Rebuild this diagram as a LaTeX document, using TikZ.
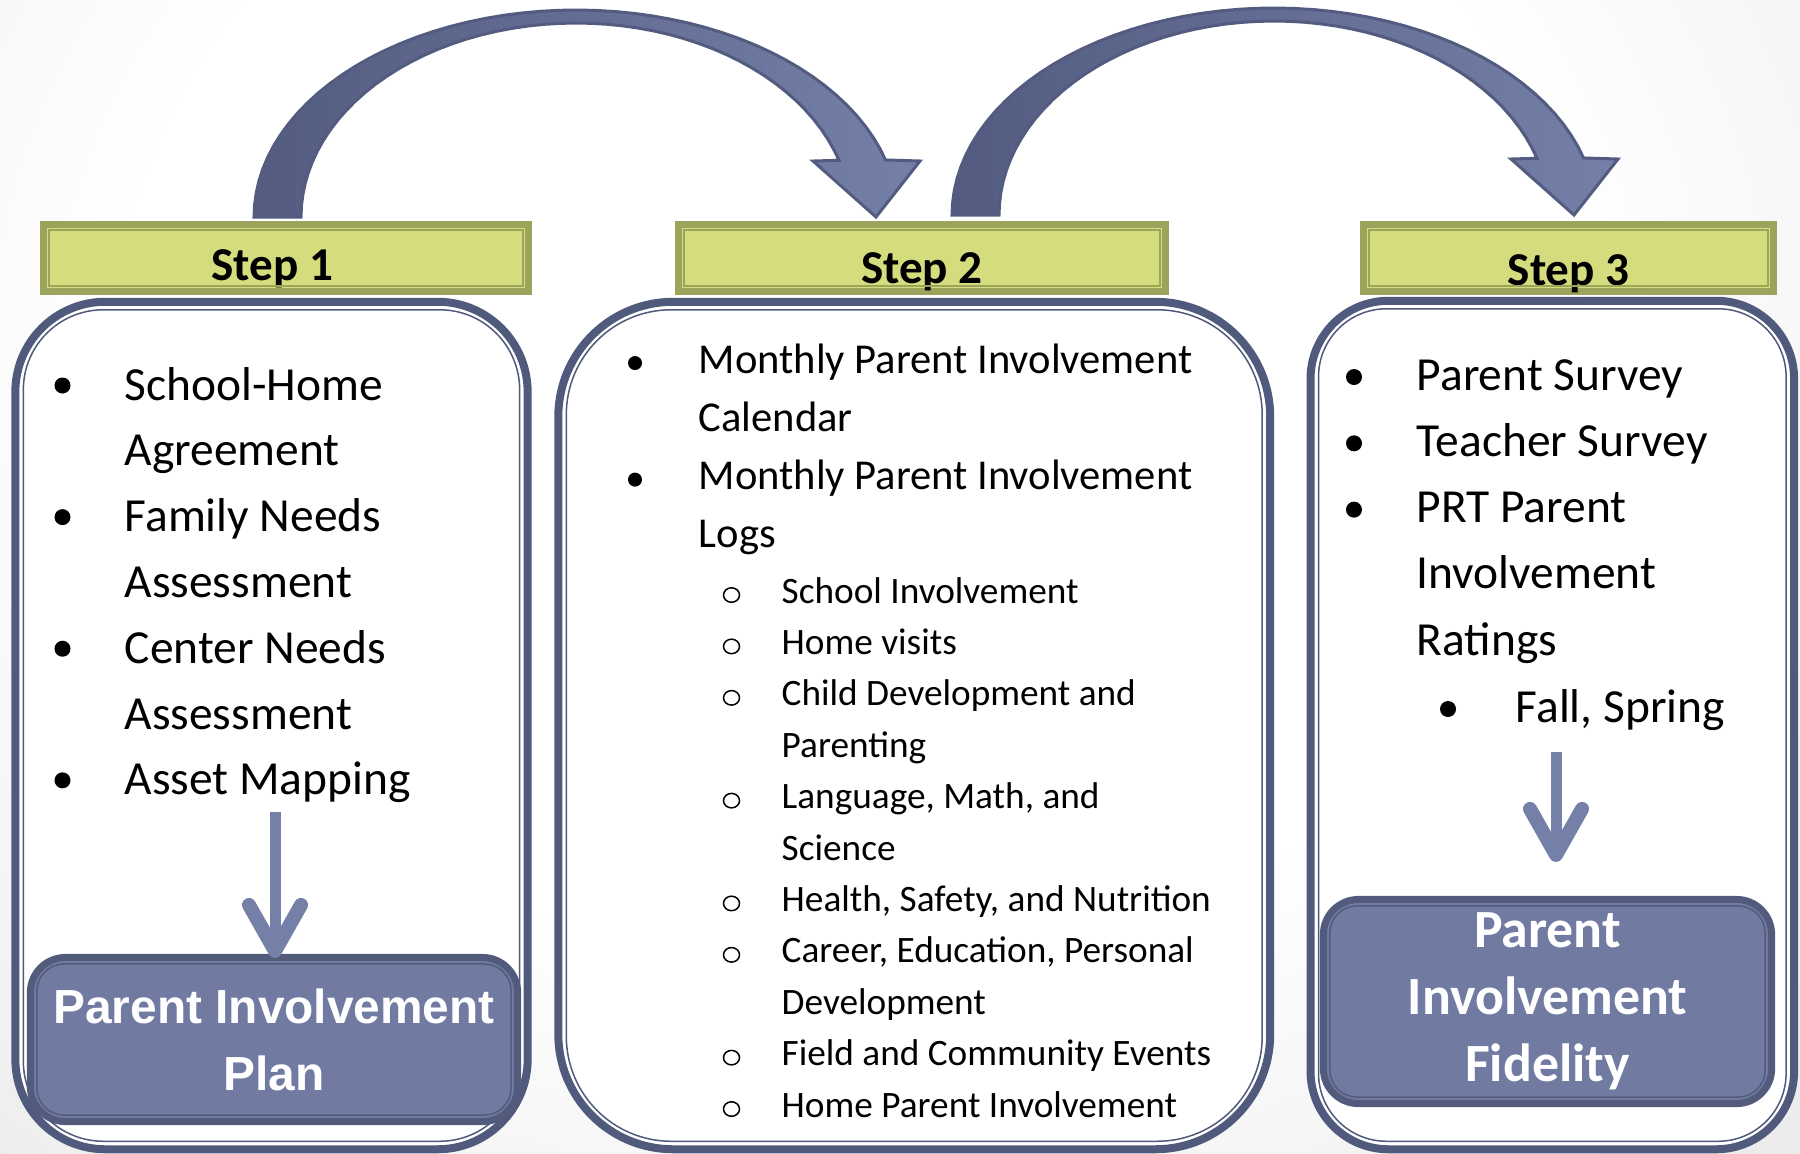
\documentclass[tikz,border=0pt]{standalone}
\usepackage{fontspec}
\setmainfont{Carlito}
\newfontfamily\arialfont{Liberation Sans}
\usepackage{tikz}
\usetikzlibrary{arrows.meta}
\usetikzlibrary{shapes.geometric}

\definecolor{frameblue}{HTML}{505A7C}
\definecolor{arrowblue}{HTML}{7580A8}
\definecolor{arrowdark}{HTML}{535C80}
\definecolor{goalblue}{HTML}{717BA2}
\definecolor{goaledge}{HTML}{525B7C}
\definecolor{barfill}{HTML}{D4DC7E}
\definecolor{baredge}{HTML}{9CA35A}
\pgfdeclareradialshading{paper}{\pgfpoint{0bp}{0bp}}{color(0bp)=(white); color(18bp)=(white);
  color(48bp)=(black!15); color(70bp)=(black!19)}

\begin{document}
\begin{tikzpicture}
        [x=0.01cm, y=-0.01cm,
         colbox/.style={draw=frameblue, line width=0.08cm, fill=white},
         colline/.style={draw=frameblue, line width=0.015cm},
         stepbar/.style={draw=baredge, line width=0.07cm, fill=barfill, inner sep=0pt,
                         minimum height=0.67cm, text depth=0pt, font=\fontsize{13.4}{16}\selectfont\bfseries},
         stepinner/.style={draw=baredge, line width=0.02cm},
         goal/.style={draw=goaledge, line width=0.07cm, fill=goalblue, text=white, align=center,
                      inner ysep=0pt, rounded corners=0.35cm},
         goalinner/.style={draw=goaledge, line width=0.015cm, rounded corners=0.27cm},
         big/.style={anchor=base west, inner sep=0pt, font=\fontsize{13.5}{16}\selectfont},
         mid/.style={anchor=base west, inner sep=0pt, font=\fontsize{12.1}{14}\selectfont},
         small/.style={anchor=base west, inner sep=0pt, font=\fontsize{10.6}{13}\selectfont},
         bul/.style={circle, fill=black, inner sep=0pt, minimum size=0.16cm},
         ring/.style={ellipse, draw=black, line width=0.015cm, inner sep=0pt,
                      minimum width=0.16cm, minimum height=0.145cm},
         curvearrow/.style={draw=arrowdark, line width=0.03cm, left color=arrowdark, right color=arrowblue},
         downarrow/.style={draw=arrowblue, line width=0.11cm,
                           -{Straight Barb[length=0.46cm, width=0.52cm, line width=0.14cm, round]}}]
      \useasboundingbox (0,0) rectangle (1800,1153);
      \shade[shading=paper] (-150,-500) rectangle (1850,1200);

      \node[colbox, rounded corners=0.9cm, minimum width=5.12cm, minimum height=8.47cm] (col1) at (271.5,725.5) {};
      \node[colbox, rounded corners=1.15cm, minimum width=7.115cm, minimum height=8.47cm] (col2) at (914.25,725.5) {};
      \node[colbox, rounded corners=0.78cm, minimum width=4.833cm, minimum height=8.48cm] (col3) at (1552.3,725) {};
      \foreach \n/\r in {col1/0.8cm, col2/1.05cm, col3/0.68cm}
        \draw[colline, rounded corners=\r] ([shift={(12,12)}]\n.north west) rectangle ([shift={(-12,-12)}]\n.south east);

      \node[stepbar, minimum width=4.85cm, text height=0.44cm] (s1) at (286,258) {Step 1\hspace*{0.27cm}};
      \node[stepbar, minimum width=4.87cm, text height=0.5cm] (s2) at (921.8,258) {Step 2};
      \node[stepbar, minimum width=4.1cm, text height=0.54cm] (s3) at (1568.5,258) {Step 3};
      \foreach \n in {s1,s2,s3}
        \draw[stepinner] ([shift={(9,9)}]\n.north west) rectangle ([shift={(-9,-9)}]\n.south east);

      \node[goal, font=\arialfont\bfseries\fontsize{13.6}{19.1}\selectfont,
            minimum width=4.87cm, minimum height=1.64cm] (plan) at (274,1039.5) {Parent Involvement\\Plan};
      \node[goal, font=\bfseries\fontsize{15.3}{19}\selectfont,
            minimum width=4.48cm, minimum height=2.04cm] (fid) at (1547.5,1001.5) {Parent\\Involvement\\Fidelity};
      \foreach \n in {plan,fid}
        \draw[goalinner] ([shift={(10,10)}]\n.north west) rectangle ([shift={(-10,-10)}]\n.south east);

      \foreach \b/\t [count=\i] in {1/School-Home, 0/Agreement, 1/Family Needs, 0/Assessment,
                                    1/Center Needs, 0/Assessment, 1/Asset Mapping}{
        \node[big] (a\i) at (124,{400+65.8*(\i-1)}) {\t};
        \ifnum\b=1 \node[bul] (ab\i) at (62.5,{385.5+65.8*(\i-1)}) {};\fi
      }

      \foreach \b/\t [count=\i] in {1/Monthly Parent Involvement, 0/Calendar, 1/Monthly Parent Involvement, 0/Logs}{
        \node[mid] (m\i) at (698,{373+58.3*(\i-1)}) {\t};
        \ifnum\b=1 \node[bul, minimum size=0.14cm] (mb\i) at (635,{363+58.3*(\i-1)}) {};\fi
      }
      \foreach \b/\t [count=\i] in {1/School Involvement, 1/Home visits, 1/Child Development and, 0/Parenting,
                                    1/{Language, Math, and}, 0/Science, 1/{Health, Safety, and Nutrition},
                                    1/{Career, Education, Personal}, 0/Development,
                                    1/Field and Community Events, 1/Home Parent Involvement}{
        \node[small] (k\i) at (781,{603+51.4*(\i-1)}) {\t};
        \ifnum\b=1 \node[ring] (kb\i) at (731.5,{595+51.4*(\i-1)}) {};\fi
      }

      \foreach \b/\t [count=\i] in {1/Parent Survey, 1/Teacher Survey, 1/PRT Parent, 0/Involvement, 0/Ratings}{
        \node[big] (r\i) at (1416,{390+66.3*(\i-1)}) {\t};
        \ifnum\b=1 \node[bul] (rb\i) at (1354,{377+66.3*(\i-1)}) {};\fi
      }
      \node[big] (r6) at (1515,722) {Fall, Spring};
      \node[bul] (rb6) at (1448,709) {};

      \coordinate (d1) at (275,812);
      \coordinate (d3) at (1556,752);
      \draw[downarrow, shorten >=-0.04cm] (d1) -- (d1 |- plan.north);
      \draw[downarrow, shorten >=0.34cm] (d3) -- (d3 |- fid.north);

      \foreach \cx/\cy in {576/217, 1274/215}
        \draw[curvearrow] (\cx-322,\cy) -- plot[domain=180:16, samples=50] ({\cx+322*cos(\x)},{\cy-207*sin(\x)})
              -- (\cx+344,\cy-56) -- (\cx+300,\cy) -- (\cx+237,\cy-56)
              -- plot[domain=17:180, samples=50] ({\cx+275*cos(\x)},{\cy-194*sin(\x)}) -- cycle;
\end{tikzpicture}
\end{document}
